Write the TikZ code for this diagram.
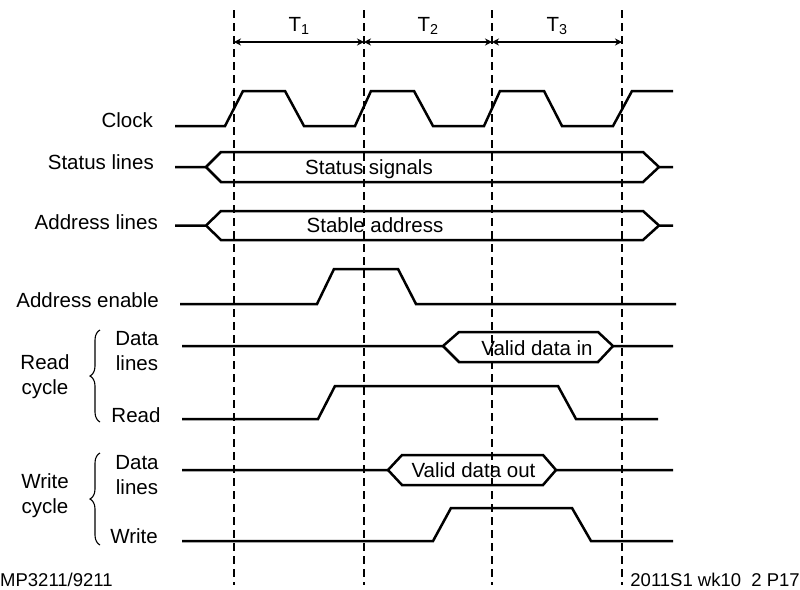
\documentclass[tikz,border=0pt]{standalone}
\usepackage{fontspec}
\setmainfont{Liberation Sans}
\usetikzlibrary{arrows.meta,decorations.pathreplacing}

\begin{document}
\begin{tikzpicture}[
    x=1pt, y=-1pt,
    wave/.style={line width=2.5pt, line join=miter},
    grid/.style={line width=1.8pt, dash pattern=on 8pt off 5pt},
    period/.style={line width=1.4pt, {Stealth[length=7pt,width=7pt]}-{Stealth[length=7pt,width=7pt]}},
    sig/.style={anchor=east, inner sep=0pt, text height=14.8pt, text depth=0pt},
    buslabel/.style={inner sep=0pt, text height=14.8pt, text depth=0pt},
    group/.style={anchor=north, align=center, inner sep=0pt},
    curly/.style={line width=1.1pt, decorate, decoration={brace, amplitude=10pt}},
    foot/.style={inner sep=0pt, font=\fontsize{18.5}{20}\selectfont},
    every node/.style={font=\fontsize{20.5}{25}\selectfont}
  ]
  \useasboundingbox (0,0) rectangle (800,589);

  % Clock edges and the three cycles.
  \draw[grid] (234,10) -- (234,585);
  \draw[grid] (364,10) -- (364,585);
  \draw[grid] (492,10) -- (492,585);
  \draw[grid] (622,10) -- (622,585);
  \coordinate (p0) at (234,42);
  \coordinate (p1) at (364,42);
  \coordinate (p2) at (492,42);
  \coordinate (p3) at (622,42);
  \draw[period] (p0) -- node[above=3pt] (t1) {T\textsubscript{1}} (p1);
  \draw[period] (p1) -- node[above=3pt] (t2) {T\textsubscript{2}} (p2);
  \draw[period] (p2) -- node[above=3pt] (t3) {T\textsubscript{3}} (p3);

  % Signal names.
  \node[sig] (clk)    at (153,120) {Clock};
  \node[sig] (status) at (154,162) {Status lines};
  \node[sig] (addr)   at (158,222) {Address lines};
  \node[sig] (aen)    at (159,300) {Address enable};

  % Clock.
  \draw[wave] (175,126) -- (225,126) -- (243,91) -- (285,91) -- (304,126)
    -- (355,126) -- (371,91) -- (414,91) -- (433,126)
    -- (484,126) -- (500,91) -- (544,91) -- (562,126)
    -- (613,126) -- (632,91) -- (673,91);

  % Status and address buses.
  \draw[wave] (175,167) -- (206,167) -- (221,152) -- (643,152) -- (659,167) -- (673,167);
  \draw[wave] (206,167) -- (221,182) -- (643,182) -- (659,167);
  \node[buslabel] (stsig) at (369,167) {Status signals};
  \draw[wave] (175,225.5) -- (206,225.5) -- (221,211) -- (643,211) -- (659,225.5) -- (673,225.5);
  \draw[wave] (206,225.5) -- (221,240) -- (643,240) -- (659,225.5);
  \node[buslabel] (staddr) at (375,225) {Stable address};

  % Address enable.
  \draw[wave] (180,304) -- (317,304) -- (334,269) -- (398,269) -- (416,304) -- (676,304);

  % Read cycle.
  \node[group] (rdcyc) at (45,354) {Read\\cycle};
  \draw[curly] (100,422) -- (100,330);
  \node[group] (rddata) at (137,331.5) {Data\\lines};
  \node[group] (rd) at (136,407.5) {Read};
  \draw[wave] (182,346) -- (443,346) -- (459,332) -- (598,332) -- (613,346) -- (673,346);
  \draw[wave] (443,346) -- (459,362) -- (598,362) -- (613,346);
  \node[buslabel] (din) at (537,348) {Valid data in};
  \draw[wave] (182,419) -- (318,419) -- (335,386) -- (558,386) -- (576,419) -- (658,419);

  % Write cycle.
  \node[group] (wrcyc) at (45,473.5) {Write\\cycle};
  \draw[curly] (100,545) -- (100,453);
  \node[group] (wrdata) at (137,455.5) {Data\\lines};
  \node[group] (wr) at (134,528.5) {Write};
  \draw[wave] (182,470) -- (388,470) -- (402,455) -- (543,455) -- (556,470) -- (673,470);
  \draw[wave] (388,470) -- (402,485) -- (543,485) -- (556,470);
  \node[buslabel] (dout) at (473.5,470.5) {Valid data out};
  \draw[wave] (182,541) -- (433,541) -- (451,508) -- (572,508) -- (591,541) -- (673,541);

  % Footer.
  \node[foot, anchor=west] (course) at (0,580) {MP3211/9211};
  \node[foot, anchor=east] (week) at (800,580) {2011S1 wk10\ \ 2 P17};
\end{tikzpicture}
\end{document}
